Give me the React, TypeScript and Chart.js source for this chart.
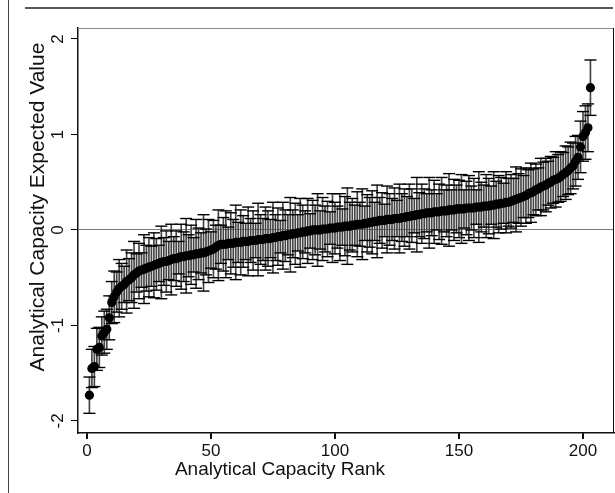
import React, { useEffect, useRef } from "react";
import { Chart, registerables } from "chart.js";
Chart.register(...registerables);

// Expected values, sorted by rank (1..203)
const values: number[] = [
  -1.73, -1.45, -1.43, -1.25, -1.23, -1.11, -1.07, -1.04, -0.92, -0.76,
  -0.70, -0.65, -0.61, -0.59, -0.57, -0.54, -0.52, -0.50, -0.47, -0.45,
  -0.43, -0.42, -0.41, -0.40, -0.39, -0.38, -0.37, -0.36, -0.35, -0.34,
  -0.33, -0.33, -0.32, -0.31, -0.30, -0.30, -0.29, -0.28, -0.28, -0.27,
  -0.27, -0.26, -0.26, -0.25, -0.25, -0.24, -0.24, -0.23, -0.22, -0.21,
  -0.20, -0.18, -0.16, -0.15, -0.15, -0.15, -0.14, -0.14, -0.14, -0.13,
  -0.13, -0.13, -0.12, -0.12, -0.12, -0.11, -0.11, -0.11, -0.10, -0.10,
  -0.10, -0.09, -0.09, -0.09, -0.08, -0.08, -0.07, -0.07, -0.06, -0.06,
  -0.05, -0.05, -0.04, -0.04, -0.03, -0.03, -0.02, -0.02, -0.01, -0.01,
  0.00, 0.00, 0.00, 0.00, 0.01, 0.01, 0.01, 0.02, 0.02, 0.02,
  0.03, 0.03, 0.03, 0.04, 0.04, 0.04, 0.05, 0.05, 0.06, 0.06,
  0.06, 0.07, 0.07, 0.08, 0.08, 0.09, 0.09, 0.10, 0.10, 0.10,
  0.11, 0.11, 0.11, 0.12, 0.12, 0.12, 0.13, 0.13, 0.14, 0.14,
  0.15, 0.15, 0.16, 0.16, 0.17, 0.17, 0.18, 0.18, 0.18, 0.19,
  0.19, 0.19, 0.20, 0.20, 0.20, 0.21, 0.21, 0.21, 0.22, 0.22,
  0.22, 0.22, 0.23, 0.23, 0.23, 0.23, 0.24, 0.24, 0.24, 0.25,
  0.25, 0.25, 0.26, 0.26, 0.27, 0.27, 0.28, 0.28, 0.29, 0.29,
  0.30, 0.31, 0.32, 0.33, 0.34, 0.35, 0.36, 0.38, 0.39, 0.40,
  0.42, 0.43, 0.45, 0.46, 0.47, 0.49, 0.50, 0.52, 0.53, 0.54,
  0.56, 0.58, 0.60, 0.62, 0.65, 0.67, 0.72, 0.76, 0.87, 0.98,
  1.02, 1.07, 1.49,
];

// Half-widths of the error bars, by rank
const errors: number[] = [
  0.19, 0.20, 0.21, 0.22, 0.21, 0.20, 0.22, 0.21, 0.23, 0.22,
  0.27, 0.21, 0.30, 0.24, 0.19, 0.33, 0.22, 0.26, 0.35, 0.20,
  0.29, 0.18, 0.36, 0.24, 0.31, 0.21, 0.34, 0.27, 0.19, 0.38,
  0.25, 0.32, 0.20, 0.37, 0.23, 0.29, 0.17, 0.34, 0.26, 0.39,
  0.22, 0.31, 0.18, 0.36, 0.27, 0.21, 0.40, 0.24, 0.33, 0.19,
  0.30, 0.23, 0.37, 0.20, 0.28, 0.35, 0.17, 0.32, 0.25, 0.39,
  0.21, 0.34, 0.27, 0.19, 0.36, 0.23, 0.31, 0.18, 0.38, 0.26,
  0.22, 0.33, 0.29, 0.20, 0.37, 0.24, 0.30, 0.17, 0.35, 0.27,
  0.21, 0.39, 0.25, 0.32, 0.19, 0.36, 0.28, 0.22, 0.34, 0.18,
  0.31, 0.26, 0.38, 0.20, 0.33, 0.24, 0.29, 0.17, 0.36, 0.27,
  0.22, 0.35, 0.19, 0.31, 0.40, 0.25, 0.28, 0.21, 0.34, 0.23,
  0.37, 0.18, 0.30, 0.26, 0.33, 0.20, 0.38, 0.24, 0.29, 0.17,
  0.35, 0.27, 0.22, 0.32, 0.19, 0.36, 0.25, 0.30, 0.21, 0.34,
  0.28, 0.18, 0.39, 0.23, 0.31, 0.26, 0.20, 0.37, 0.24, 0.33,
  0.19, 0.29, 0.35, 0.22, 0.27, 0.38, 0.21, 0.32, 0.25, 0.30,
  0.36, 0.20, 0.28, 0.34, 0.23, 0.31, 0.18, 0.37, 0.26, 0.22,
  0.33, 0.29, 0.20, 0.35, 0.24, 0.30, 0.27, 0.21, 0.32, 0.25,
  0.28, 0.23, 0.34, 0.26, 0.30, 0.22, 0.29, 0.25, 0.31, 0.24,
  0.27, 0.22, 0.30, 0.25, 0.28, 0.23, 0.27, 0.24, 0.29, 0.25,
  0.26, 0.23, 0.28, 0.25, 0.27, 0.24, 0.26, 0.23, 0.27, 0.26,
  0.28, 0.25, 0.29,
];

const xTicks: number[] = [0, 50, 100, 150, 200];
const yTicks: number[] = [-2, -1, 0, 1, 2];
const xTitle = "Analytical Capacity Rank";
const yTitle = "Analytical Capacity Expected Value";

const FONT = "'Liberation Sans', Arial, Helvetica, sans-serif";

const framePlugin = {
  id: "frame",
  beforeDraw(chart: any) {
    const ctx = chart.ctx;
    ctx.save();
    ctx.fillStyle = "#fff";
    ctx.fillRect(0, 0, chart.width, chart.height);
    ctx.strokeStyle = "#444";
    ctx.lineWidth = 1;
    ctx.beginPath();
    ctx.moveTo(8.5, 0);
    ctx.lineTo(8.5, chart.height);
    ctx.stroke();
    ctx.strokeStyle = "#222";
    ctx.lineWidth = 1.5;
    ctx.beginPath();
    ctx.moveTo(25, 8);
    ctx.lineTo(613, 8);
    ctx.stroke();
    ctx.restore();
  },
  afterDatasetsDraw(chart: any) {
    const { left, top, right, bottom } = chart.chartArea;
    const ctx = chart.ctx;
    ctx.save();
    ctx.lineWidth = 1;
    ctx.strokeStyle = "#8a8a8a";
    ctx.beginPath();
    ctx.moveTo(left, top + 0.5);
    ctx.lineTo(right, top + 0.5);
    ctx.stroke();
    ctx.strokeStyle = "#111";
    ctx.beginPath();
    ctx.moveTo(right - 0.5, top);
    ctx.lineTo(right - 0.5, bottom);
    ctx.stroke();
    ctx.restore();
  },
  afterDraw(chart: any) {
    const ctx = chart.ctx;
    const xs = chart.scales.x;
    const bottom = chart.chartArea.bottom;
    ctx.save();
    // x-axis tick marks placed through the x scale
    ctx.strokeStyle = "#111";
    ctx.lineWidth = 1;
    ctx.beginPath();
    xTicks.forEach((v) => {
      const px = Math.round(xs.getPixelForValue(v)) + 0.5;
      ctx.moveTo(px, bottom);
      ctx.lineTo(px, bottom + 6);
    });
    ctx.stroke();
    ctx.fillStyle = "#111";
    ctx.textAlign = "center";
    ctx.textBaseline = "middle";
    ctx.font = `19px ${FONT}`;
    ctx.fillText(xTitle, 280, 470);
    ctx.translate(38, 207);
    ctx.rotate(-Math.PI / 2);
    ctx.font = `21px ${FONT}`;
    ctx.fillText(yTitle, 0, 0);
    ctx.restore();
  },
};

export default function App() {
  const ref = useRef<HTMLCanvasElement | null>(null);
  useEffect(() => {
    if (!ref.current) return;
    const pts = values.map((v, i) => ({ x: i + 1, y: v }));
    const whiskers = values.map((v, i) => ({ x: i + 1, y: [v - errors[i], v + errors[i]] }));
    const caps = values.flatMap((v, i) => [
      { x: i + 1, y: v - errors[i] },
      { x: i + 1, y: v + errors[i] },
    ]);
    const chart = new Chart(ref.current, {
      type: "scatter",
      data: {
        datasets: [
          {
            type: "scatter",
            data: pts,
            pointRadius: 4.6,
            pointBackgroundColor: "#000",
            pointBorderColor: "#000",
            pointBorderWidth: 0,
            order: 0,
          } as any,
          {
            type: "scatter",
            data: caps,
            pointStyle: "line",
            pointRadius: 6,
            pointBorderColor: "#000",
            pointBorderWidth: 1.4,
            order: 1,
          } as any,
          {
            type: "bar",
            data: whiskers,
            backgroundColor: "#444",
            barThickness: 1,
            grouped: false,
            order: 2,
          } as any,
        ],
      },
      options: {
        animation: false,
        responsive: false,
        maintainAspectRatio: false,
        layout: { autoPadding: false, padding: { top: 28, right: 1, left: 0, bottom: 0 } },
        plugins: { legend: { display: false }, tooltip: { enabled: false } },
        scales: {
          x: {
            type: "linear",
            min: -3.6,
            max: 212.5,
            offset: false,
            afterBuildTicks: (s: any) => {
              s.ticks = xTicks.map((v) => ({ value: v }));
            },
            afterFit: (s: any) => {
              s.height = 60;
            },
            grid: {
              offset: false,
              drawOnChartArea: false,
              color: "#000",
              tickColor: "#000",
              tickLength: 6,
              lineWidth: 1,
            },
            border: { display: true, color: "#111", width: 1.5 },
            ticks: {
              color: "#111",
              font: { family: FONT, size: 17 },
              padding: 2,
              maxRotation: 0,
              autoSkip: false,
            },
            title: { display: false, text: xTitle },
          },
          y: {
            type: "linear",
            min: -2.126,
            max: 2.115,
            afterBuildTicks: (s: any) => {
              s.ticks = yTicks.map((v) => ({ value: v }));
            },
            afterFit: (s: any) => {
              s.width = 78;
            },
            grid: {
              offset: false,
              color: (c: any) => (c.tick && c.tick.value === 0 ? "#7a7a7a" : "rgba(0,0,0,0)"),
              tickColor: "#000",
              tickLength: 7,
              lineWidth: 1,
            },
            border: { display: true, color: "#111", width: 1.5 },
            ticks: {
              color: "#111",
              font: { family: FONT, size: 17 },
              padding: 5,
              minRotation: 90,
              maxRotation: 90,
              crossAlign: "center",
              autoSkip: false,
            },
            title: { display: false, text: yTitle },
          },
        },
      } as any,
      plugins: [framePlugin],
    });
    return () => chart.destroy();
  }, []);
  return (
    <div style={{ position: "fixed", left: 0, top: 0, width: 615, height: 493, background: "#fff" }}>
      <canvas ref={ref} width={615} height={493} style={{ width: 615, height: 493, display: "block" }} />
    </div>
  );
}
